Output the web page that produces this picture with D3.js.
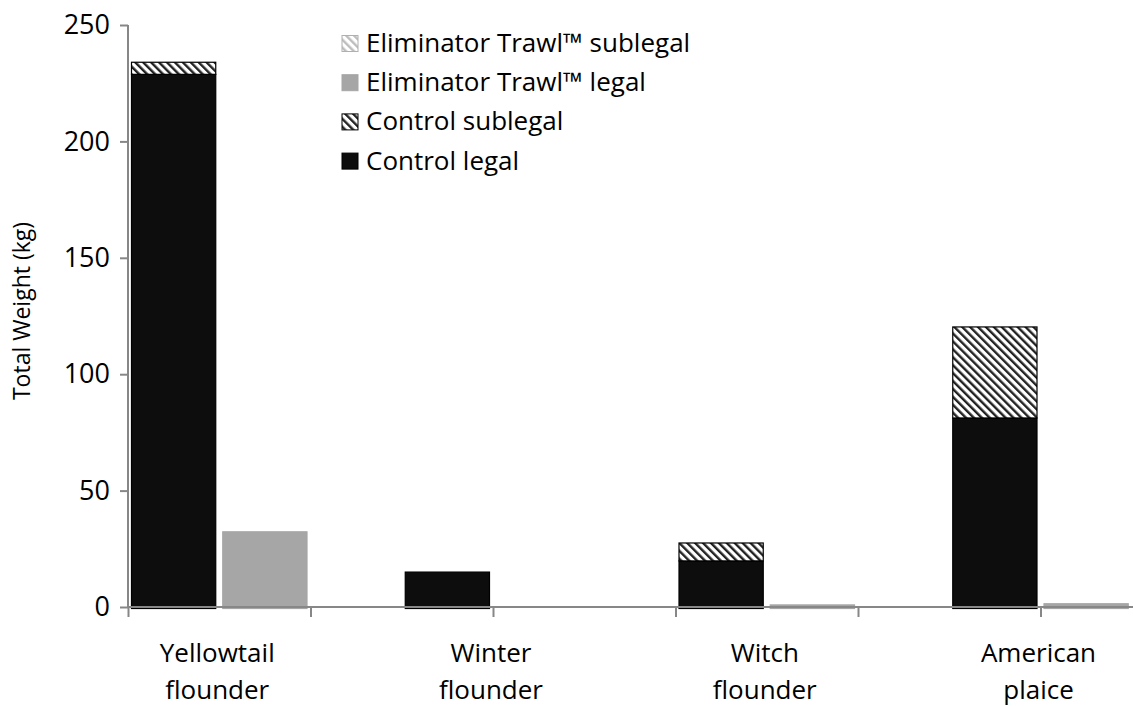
<!DOCTYPE html>
<html>
<head>
<meta charset="utf-8">
<script src="https://cdn.jsdelivr.net/npm/d3@7"></script>
<style>
  html, body { margin: 0; padding: 0; background: #fff; }
  svg { display: block; font-family: "Open Sans", sans-serif; }
</style>
</head>
<body>
<svg id="chart" width="1133" height="706"></svg>
<script>
const categories = [["Yellowtail", "flounder"], ["Winter", "flounder"], ["Witch", "flounder"], ["American", "plaice"]];
const controlLegal = [228.8, 15, 19.8, 81.2];
const controlSublegal = [5.2, 0, 7.7, 39.1];
const elimLegal = [32.3, 0, 0.9, 1.4];
const elimSublegal = [0, 0, 0, 0];
const yTicks = [0, 50, 100, 150, 200, 250];
const legendLabels = ["Eliminator Trawl\u2122 sublegal", "Eliminator Trawl\u2122 legal", "Control sublegal", "Control legal"];

const svg = d3.select("#chart");
const defs = svg.append("defs");

function hatch(id, color) {
  const p = defs.append("pattern").attr("id", id).attr("patternUnits", "userSpaceOnUse")
    .attr("width", 5.6).attr("height", 5.6).attr("patternTransform", "rotate(-45)");
  p.append("rect").attr("width", 5.6).attr("height", 5.6).attr("fill", "#fff");
  p.append("rect").attr("x", 0).attr("y", 0).attr("width", 2.4).attr("height", 5.6).attr("fill", color);
}
hatch("hatchDark", "#222");
hatch("hatchLight", "#bdbdbd");

// slots: each category uses control slot 3i, eliminator slot 3i+1
const x = d3.scaleLinear().domain([0, 11]).range([128, 1131.75]);
const y = d3.scaleLinear().domain([0, 250]).range([607, 25]);
const inset = 3.5;

const bars = [];
categories.forEach((c, i) => {
  const cs = 3 * i, es = 3 * i + 1;
  bars.push({ s: cs, y0: 0, y1: controlLegal[i], fill: "#0d0d0d", stroke: "#000" });
  bars.push({ s: cs, y0: controlLegal[i], y1: controlLegal[i] + controlSublegal[i], fill: "url(#hatchDark)", stroke: "#000" });
  bars.push({ s: es, y0: 0, y1: elimLegal[i], fill: "#a6a6a6", stroke: "#a6a6a6" });
  bars.push({ s: es, y0: elimLegal[i], y1: elimLegal[i] + elimSublegal[i], fill: "url(#hatchLight)", stroke: "#a6a6a6" });
});

svg.append("g").selectAll("rect").data(bars.filter(d => d.y1 - d.y0 > 0)).join("rect")
  .attr("x", d => x(d.s) + inset)
  .attr("width", d => x(d.s + 1) - x(d.s) - 2 * inset)
  .attr("y", d => y(d.y1))
  .attr("height", d => y(d.y0) - y(d.y1) + (d.y0 === 0 ? 1.5 : 0))
  .attr("fill", d => d.fill)
  .attr("stroke", d => d.stroke)
  .attr("stroke-width", 1.2);

// axes
const axisColor = "#878787";
const yAxis = svg.append("g").attr("transform", "translate(128,0)")
  .call(d3.axisLeft(y).tickValues(yTicks).tickSize(8).tickPadding(10).tickSizeOuter(0));
const xAxis = svg.append("g").attr("transform", "translate(0,607)")
  .call(d3.axisBottom(x).tickValues([0, 2, 4, 6, 8, 10]).tickSize(10).tickFormat("").tickSizeOuter(0));
[yAxis, xAxis].forEach(g => {
  g.selectAll("path.domain").attr("stroke", axisColor).attr("stroke-width", 2);
  g.selectAll(".tick line").attr("stroke", axisColor).attr("stroke-width", 2);
});
xAxis.select("path.domain").attr("d", `M127,0H1133`);
yAxis.select("path.domain").attr("d", `M0,${y(250)}V608`);
yAxis.selectAll(".tick text").attr("font-family", "Open Sans").attr("font-size", 27).attr("fill", "#000");

// category labels
const lab = svg.append("g");
categories.forEach((c, i) => {
  const cx = x(3 * i + 1) - 2;
  c.forEach((line, j) => {
    lab.append("text").attr("x", cx).attr("y", 662 + j * 37)
      .attr("text-anchor", "middle").attr("font-size", 26).attr("fill", "#000").text(line);
  });
});

// y label
svg.append("text").attr("transform", "translate(30,311) rotate(-90)")
  .attr("text-anchor", "middle").attr("font-size", 23).attr("fill", "#000").text("Total Weight (kg)");

// legend
const legFills = ["url(#hatchLight)", "#a6a6a6", "url(#hatchDark)", "#0d0d0d"];
const legStroke = ["#b0b0b0", "#a6a6a6", "#000", "#000"];
const leg = svg.append("g");
legendLabels.forEach((t, i) => {
  const cy = 43 + 39.2 * i;
  leg.append("rect").attr("x", 342).attr("y", cy - 7.5).attr("width", 16).attr("height", 16)
    .attr("fill", legFills[i]).attr("stroke", legStroke[i]).attr("stroke-width", 1);
  leg.append("text").attr("x", 366).attr("y", cy + 9).attr("font-size", 26).attr("fill", "#000").text(t);
});
</script>
</body>
</html>
